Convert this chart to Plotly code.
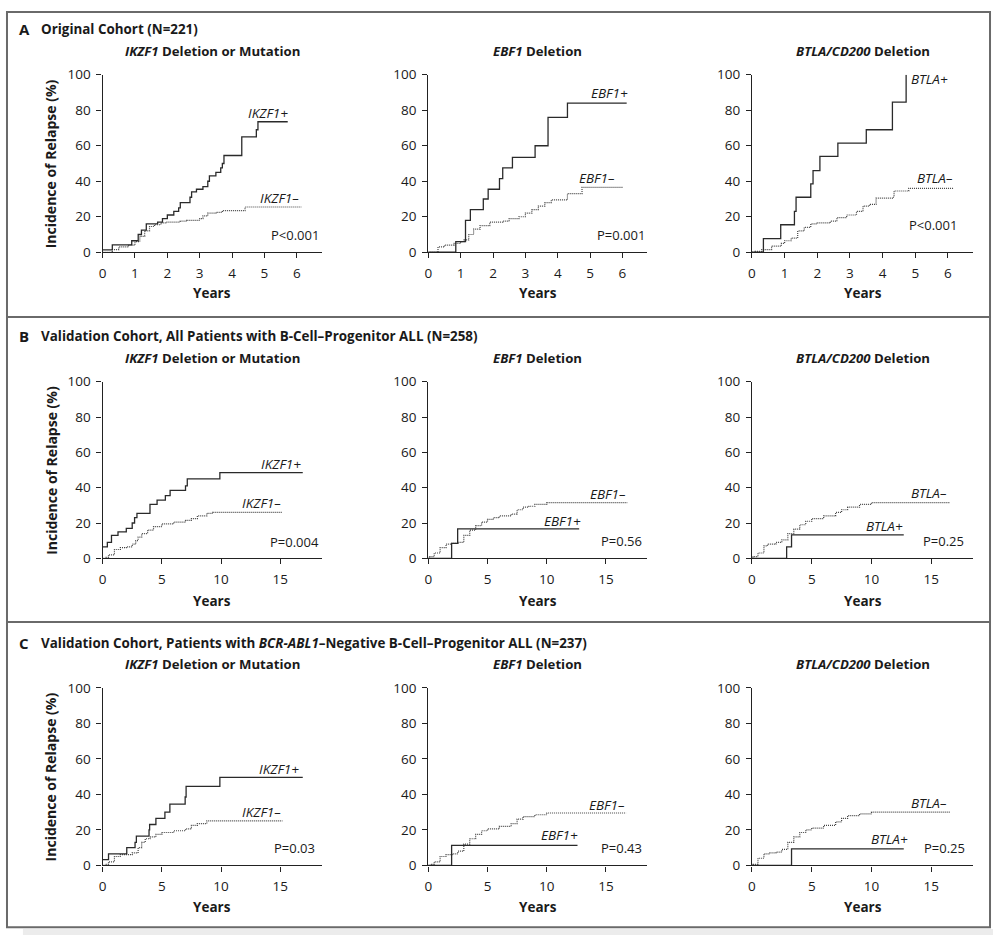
import plotly.graph_objects as go

# ---------------- data ----------------
# Panel A: Original cohort (years 0-6)
a_ikzf1_pos_x = [0, 0.3, 0.9, 1.1, 1.2, 1.35, 1.7, 1.85, 2.0, 2.2, 2.35, 2.4, 2.7, 2.75, 2.9, 3.1, 3.25, 3.3, 3.5, 3.65, 3.7, 3.75, 4.3, 4.75, 4.8, 5.72]
a_ikzf1_pos_y = [1.3, 4.2, 6.5, 10, 12.5, 16, 17, 19, 21, 23, 25, 28, 31, 34, 35.5, 37, 40, 43, 45, 47.5, 50, 54.5, 65, 69, 73.5, 73.5]
a_ikzf1_neg_x = [0, 0.3, 0.5, 0.8, 1.0, 1.15, 1.3, 1.45, 1.6, 1.8, 1.95, 2.4, 2.6, 3.0, 3.1, 3.25, 3.5, 3.7, 4.4, 6.15]
a_ikzf1_neg_y = [0, 1.5, 3, 4, 6, 9, 12, 14.5, 15.5, 16.5, 17, 17.5, 18, 19, 20.5, 22, 22.5, 23.5, 25.5, 25.5]

a_ebf1_pos_x = [0, 0.85, 1.15, 1.3, 1.7, 1.85, 2.2, 2.3, 2.6, 3.3, 3.7, 4.3, 6.13]
a_ebf1_pos_y = [0, 6, 18, 24, 30, 35.5, 41.5, 47.5, 53.5, 60, 76, 84, 84]
a_ebf1_neg_x = [0, 0.3, 0.5, 0.8, 1.0, 1.1, 1.25, 1.4, 1.6, 1.9, 2.3, 2.5, 2.8, 3.0, 3.2, 3.4, 3.6, 3.8, 4.3, 4.75, 6.0]
a_ebf1_neg_y = [0, 3, 4, 5, 6, 7, 10, 13, 15, 17, 17.5, 19, 20, 22, 24, 26, 28, 29.5, 33, 36.5, 36.5]

a_btla_pos_x = [0, 0.35, 0.88, 1.3, 1.35, 1.8, 1.87, 2.08, 2.63, 3.5, 4.3, 4.72]
a_btla_pos_y = [0, 7.7, 15.5, 23, 31, 38.5, 46, 54, 61.5, 69, 84.6, 100]
a_btla_neg_x = [0, 0.1, 0.3, 0.6, 0.9, 1.0, 1.2, 1.4, 1.6, 1.8, 2.0, 2.4, 2.6, 2.9, 3.2, 3.4, 3.6, 3.8, 4.3, 4.35, 4.8, 6.16]
a_btla_neg_y = [0, 0.5, 1.5, 3.5, 5, 6.5, 8, 12, 14, 16, 16.5, 17.5, 19.5, 21, 23, 26, 27, 30.5, 31, 34.5, 36, 36]

# Panel B: Validation cohort, all patients (years 0-17)
b_ikzf1_pos_x = [0, 0.4, 0.75, 1.3, 2.0, 2.5, 2.7, 2.9, 4.0, 4.6, 5.3, 5.7, 7.0, 7.15, 9.9, 16.9]
b_ikzf1_pos_y = [6.5, 9, 13, 15, 17, 20, 23, 25.5, 30.5, 33, 35.5, 38.5, 41, 45, 48.5, 48.5]
b_ikzf1_neg_x = [0, 0.3, 0.5, 1.0, 1.5, 2.0, 2.5, 2.8, 3.0, 3.3, 3.8, 4.3, 5.0, 6.0, 7.0, 7.5, 8.0, 8.8, 9.3, 15.2]
b_ikzf1_neg_y = [0, 0.5, 2, 5, 6, 6.5, 8, 10, 12, 14, 16, 18, 19.5, 20.5, 21.5, 22.5, 24, 25.5, 26, 26]

b_ebf1_pos_x = [0, 1.97, 2.48, 12.74]
b_ebf1_pos_y = [0, 8.5, 16.7, 16.7]
b_ebf1_neg_x = [0, 0.1, 0.5, 1.0, 1.5, 2.0, 2.5, 3.0, 3.5, 4.0, 4.5, 5.0, 5.5, 6.0, 7.0, 7.5, 8.0, 8.5, 9.0, 10.0, 16.8]
b_ebf1_neg_y = [0, 1, 3, 6, 8, 8.5, 9, 13, 16, 18.5, 20.5, 22, 23, 24, 25, 27.5, 29, 29.5, 30.5, 31.5, 31.5]

b_btla_pos_x = [0, 2.9, 3.31, 12.7]
b_btla_pos_y = [0, 6.5, 13.3, 13.3]
b_btla_neg_x = [0, 0.1, 0.5, 1.0, 1.3, 2.0, 2.5, 3.0, 3.5, 4.0, 4.5, 5.0, 6.0, 7.0, 7.5, 8.0, 9.0, 10.0, 16.6]
b_btla_neg_y = [0, 1, 3, 7, 8, 9, 10.5, 14, 16.5, 19, 21, 22.5, 24, 26, 27.5, 29, 30.5, 31.5, 31.5]

# Panel C: Validation cohort, BCR-ABL1-negative (years 0-17)
c_ikzf1_pos_x = [0, 0.5, 2.04, 2.74, 2.85, 3.92, 3.97, 4.5, 5.26, 5.68, 6.97, 7.05, 9.9, 16.9]
c_ikzf1_pos_y = [3.2, 6.5, 10, 13, 16.5, 20, 23, 26.5, 30, 34.5, 38.5, 44.5, 49.5, 49.5]
c_ikzf1_neg_x = [0, 0.2, 0.5, 1.0, 1.5, 2.0, 2.5, 3.0, 3.3, 3.6, 4.0, 4.5, 5.0, 6.0, 7.0, 7.5, 8.0, 8.8, 15.2]
c_ikzf1_neg_y = [0, 0.5, 2, 5, 6, 6, 7, 10, 13, 15, 16, 17.5, 18.5, 19.5, 20.5, 22.5, 23.5, 25, 25]

c_ebf1_pos_x = [0, 1.97, 12.6]
c_ebf1_pos_y = [0, 11.2, 11.2]
c_ebf1_neg_x = [0, 0.3, 0.5, 1.0, 1.5, 2.0, 2.5, 3.0, 3.5, 4.0, 4.5, 5.0, 6.0, 7.0, 7.5, 8.0, 9.0, 10.0, 16.7]
c_ebf1_neg_y = [0, 0.5, 2, 5, 6, 6.5, 8, 12, 15, 17.5, 19.5, 20.5, 22, 23.5, 26, 27.5, 28.5, 29.5, 29.5]

c_btla_pos_x = [0, 3.31, 12.7]
c_btla_pos_y = [0, 9.3, 9.3]
c_btla_neg_x = [0, 0.1, 0.5, 1.0, 1.5, 2.0, 2.5, 3.0, 3.5, 4.0, 4.5, 5.0, 6.0, 7.0, 7.5, 8.0, 9.0, 10.0, 16.6]
c_btla_neg_y = [0, 0.5, 4, 6.5, 7, 7.5, 9, 13, 16, 18.5, 20, 21, 22.5, 24.5, 26.5, 28, 29, 30, 30]

panel_letters = ["A", "B", "C"]
panel_titles = [
    "Original Cohort (N=221)",
    "Validation Cohort, All Patients with B-Cell\u2013Progenitor ALL (N=258)",
    "Validation Cohort, Patients with <i>BCR-ABL1</i>\u2013Negative B-Cell\u2013Progenitor ALL (N=237)",
]
subplot_titles = ["<i>IKZF1</i> Deletion or Mutation", "<i>EBF1</i> Deletion", "<i>BTLA/CD200</i> Deletion"]
pos_labels = ["IKZF1+", "EBF1+", "BTLA+"]
neg_labels = ["IKZF1\u2013", "EBF1\u2013", "BTLA\u2013"]
p_values = [["P<0.001", "P=0.001", "P<0.001"],
            ["P=0.004", "P=0.56", "P=0.25"],
            ["P=0.03", "P=0.43", "P=0.25"]]
x_ticks = [[0, 1, 2, 3, 4, 5, 6], [0, 5, 10, 15], [0, 5, 10, 15]]
y_ticks = [0, 20, 40, 60, 80, 100]

curves = [
    [(a_ikzf1_pos_x, a_ikzf1_pos_y, a_ikzf1_neg_x, a_ikzf1_neg_y),
     (a_ebf1_pos_x, a_ebf1_pos_y, a_ebf1_neg_x, a_ebf1_neg_y),
     (a_btla_pos_x, a_btla_pos_y, a_btla_neg_x, a_btla_neg_y)],
    [(b_ikzf1_pos_x, b_ikzf1_pos_y, b_ikzf1_neg_x, b_ikzf1_neg_y),
     (b_ebf1_pos_x, b_ebf1_pos_y, b_ebf1_neg_x, b_ebf1_neg_y),
     (b_btla_pos_x, b_btla_pos_y, b_btla_neg_x, b_btla_neg_y)],
    [(c_ikzf1_pos_x, c_ikzf1_pos_y, c_ikzf1_neg_x, c_ikzf1_neg_y),
     (c_ebf1_pos_x, c_ebf1_pos_y, c_ebf1_neg_x, c_ebf1_neg_y),
     (c_btla_pos_x, c_btla_pos_y, c_btla_neg_x, c_btla_neg_y)],
]

# label positions (data coords): (pos_x, pos_y, neg_x, neg_y, p_x, p_y, p_anchor)
label_pos = [
    [(5.1, 78.5, 5.47, 30.5, 6.76, 9.7, "right"),
     (5.6, 89.5, 5.2, 42, 6.76, 9.7, "right"),
     (5.45, 97.5, 5.6, 41.7, 5.55, 15.6, "center")],
    [(15.05, 53.3, 13.4, 31.5, 18.45, 9.3, "right"),
     (11.3, 21.2, 15.2, 36.3, 16.35, 9.6, "center"),
     (11.1, 18.3, 14.8, 36.9, 16.0, 9.6, "center")],
    [(14.9, 54.5, 13.4, 30, 16.2, 9.7, "center"),
     (11.05, 16.9, 15.1, 33.9, 16.3, 9.7, "center"),
     (11.5, 14.7, 14.8, 34.9, 16.1, 9.6, "center")],
]

# ---------------- layout geometry ----------------
W, H = 993, 944
FONT = "Open Sans"
TXT = "#1a1a1a"
col_px = [(99, 319), (426, 646), (751, 973)]
row_px = [(67, 248), (380, 560), (692, 873)]
x_max = [6.77, 18.5, 18.5]
title_y = [20, 333, 646]
sub_y = [43, 356, 668]
years_y = [290, 603, 915]


def px(x):
    return x / W


def py(y):
    return 1 - y / H


fig = go.Figure()
layout = {}
annotations = []

for r in range(3):
    for c in range(3):
        k = r * 3 + c + 1
        xa = "x" if k == 1 else f"x{k}"
        ya = "y" if k == 1 else f"y{k}"
        xkey = "xaxis" if k == 1 else f"xaxis{k}"
        ykey = "yaxis" if k == 1 else f"yaxis{k}"
        x0, x1 = col_px[c]
        y0, y1 = row_px[r]
        common = dict(showline=True, linecolor="#222", linewidth=1.3, ticks="outside",
                      ticklen=5, tickwidth=1.2, tickcolor="#222", showgrid=False,
                      zeroline=False, tickfont=dict(family=FONT, size=13.5, color=TXT),
                      fixedrange=True)
        layout[xkey] = dict(domain=[px(x0), px(x1)], range=[0, x_max[r]], anchor=ya,
                            tickvals=x_ticks[r], ticklabelstandoff=3, **common)
        layout[ykey] = dict(domain=[py(y1), py(y0)], range=[0, 100], anchor=xa,
                            tickvals=y_ticks, ticklabelstandoff=3, **common)

        px_, py_, nx_, ny_ = curves[r][c]
        fig.add_trace(go.Scatter(x=nx_, y=ny_, mode="lines", line_shape="hv",
                                 line=dict(color="#444", width=1.2, dash="1px,1px"),
                                 xaxis=xa, yaxis=ya, showlegend=False))
        fig.add_trace(go.Scatter(x=px_, y=py_, mode="lines", line_shape="hv",
                                 line=dict(color="#2a2a2a", width=1.3),
                                 xaxis=xa, yaxis=ya, showlegend=False))

        lp = label_pos[r][c]
        lab_font = dict(family=FONT, size=13.5, color=TXT)
        annotations.append(dict(x=lp[0], y=lp[1], xref=xa, yref=ya, text=f"<i>{pos_labels[c]}</i>",
                                showarrow=False, font=lab_font))
        annotations.append(dict(x=lp[2], y=lp[3], xref=xa, yref=ya, text=f"<i>{neg_labels[c]}</i>",
                                showarrow=False, font=lab_font))
        annotations.append(dict(x=lp[4], y=lp[5], xref=xa, yref=ya, text=p_values[r][c],
                                xanchor=lp[6], showarrow=False,
                                font=dict(family=FONT, size=13, color=TXT)))

        # subplot title
        annotations.append(dict(x=px((x0 + x1) / 2), y=py(sub_y[r]), xref="paper", yref="paper",
                                text=f"<b>{subplot_titles[c]}</b>", showarrow=False,
                                xanchor="center", yanchor="middle",
                                font=dict(family=FONT, size=13.2, color=TXT)))
        # x axis title
        annotations.append(dict(x=px((x0 + x1) / 2), y=py(years_y[r]), xref="paper", yref="paper",
                                text="<b>Years</b>", showarrow=False, xanchor="center",
                                yanchor="middle", font=dict(family=FONT, size=13.5, color=TXT)))
    # y axis title
    y0, y1 = row_px[r]
    annotations.append(dict(x=px(47), y=py((y0 + y1) / 2), xref="paper", yref="paper",
                            text="<b>Incidence of Relapse (%)</b>", showarrow=False, textangle=-90,
                            xanchor="center", yanchor="middle",
                            font=dict(family=FONT, size=14, color=TXT)))
    # panel label and title
    annotations.append(dict(x=px(13), y=py(title_y[r]), xref="paper", yref="paper",
                            text=f"<b>{panel_letters[r]}</b>", showarrow=False, xanchor="left",
                            yanchor="middle", font=dict(family=FONT, size=15, color=TXT)))
    annotations.append(dict(x=px(35), y=py(title_y[r]), xref="paper", yref="paper",
                            text=f"<b>{panel_titles[r]}</b>", showarrow=False, xanchor="left",
                            yanchor="middle", font=dict(family=FONT, size=13.4, color=TXT)))

shapes = [
    dict(type="rect", xref="paper", yref="paper", x0=px(19), x1=1, y0=0, y1=py(938),
         fillcolor="#ececec", line=dict(width=0), layer="below"),
    dict(type="rect", xref="paper", yref="paper", x0=px(3), x1=px(990), y0=py(936), y1=py(3),
         line=dict(color="#6a6a6a", width=2)),
    dict(type="line", xref="paper", yref="paper", x0=px(3), x1=px(990), y0=py(314), y1=py(314),
         line=dict(color="#6a6a6a", width=2)),
    dict(type="line", xref="paper", yref="paper", x0=px(3), x1=px(990), y0=py(625), y1=py(625),
         line=dict(color="#6a6a6a", width=2)),
]

fig.update_layout(
    width=W, height=H, margin=dict(l=0, r=0, t=0, b=0),
    paper_bgcolor="white", plot_bgcolor="white",
    annotations=annotations, shapes=shapes, showlegend=False,
    font=dict(family=FONT, color=TXT),
    **layout,
)

fig.write_html(
    "out.html",
    config={"displayModeBar": False},
    post_script="document.body.style.margin='0';document.body.style.overflow='hidden';"
                "document.documentElement.style.overflow='hidden';",
)
